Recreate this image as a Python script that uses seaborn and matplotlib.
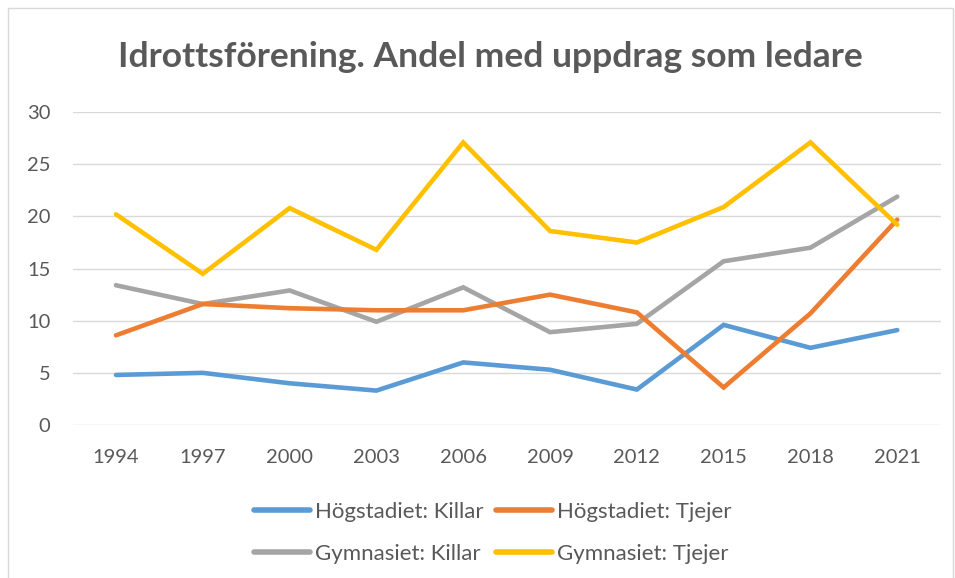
import pandas as pd
import matplotlib.pyplot as plt
import seaborn as sns
from matplotlib.patches import Rectangle

years = ["1994", "1997", "2000", "2003", "2006", "2009", "2012", "2015", "2018", "2021"]
hog_killar = [4.8, 5.0, 4.0, 3.3, 6.0, 5.3, 3.4, 9.6, 7.4, 9.1]
hog_tjejer = [8.6, 11.6, 11.2, 11.0, 11.0, 12.5, 10.8, 3.6, 10.7, 19.7]
gym_killar = [13.4, 11.6, 12.9, 9.9, 13.2, 8.9, 9.7, 15.7, 17.0, 21.9]
gym_tjejer = [20.2, 14.5, 20.8, 16.8, 27.1, 18.6, 17.5, 20.9, 27.1, 19.2]

# legend is filled column-wise, so this order gives the two rows of the original
series = {
    "Högstadiet: Killar": hog_killar,
    "Gymnasiet: Killar": gym_killar,
    "Högstadiet: Tjejer": hog_tjejer,
    "Gymnasiet: Tjejer": gym_tjejer,
}
palette = {
    "Högstadiet: Killar": "#5B9BD5",
    "Högstadiet: Tjejer": "#ED7D31",
    "Gymnasiet: Killar": "#A5A5A5",
    "Gymnasiet: Tjejer": "#FFC000",
}

rows = []
for name, vals in series.items():
    for y, v in zip(years, vals):
        rows.append({"År": y, "Andel": v, "Grupp": name})
df = pd.DataFrame(rows)

sns.set_theme(style="white")
plt.rcParams["font.family"] = ["Lato", "DejaVu Sans"]

fig = plt.figure(figsize=(9.55, 5.78), dpi=100)
ax = fig.add_axes([0.076, 0.2647, 0.909, 0.5413])

sns.lineplot(data=df, x="År", y="Andel", hue="Grupp", palette=palette,
             hue_order=list(series.keys()), linewidth=3.3, ax=ax, sort=False)

ax.set_xlim(-0.5, len(years) - 0.5)
ax.set_ylim(0, 30)
ax.set_yticks([0, 5, 10, 15, 20, 25, 30])
ax.yaxis.grid(True, color="#D9D9D9", linewidth=1)
ax.set_axisbelow(True)
for s in ax.spines.values():
    s.set_visible(False)
ax.tick_params(axis="both", length=0, labelsize=14.5, colors="#595959")
ax.tick_params(axis="x", pad=17)
ax.tick_params(axis="y", pad=16)
ax.set_xlabel("")
ax.set_ylabel("")

for line in ax.get_lines():
    line.set_solid_capstyle("round")
    line.set_solid_joinstyle("miter")

fig.text(0.513, 0.902, "Idrottsförening. Andel med uppdrag som ledare",
         ha="center", va="center", fontsize=25.5, fontweight="bold", color="#595959")

handles, labels = ax.get_legend_handles_labels()
if ax.legend_:
    ax.legend_.remove()
leg = fig.legend(handles, labels, ncol=2, loc="center", bbox_to_anchor=(0.516, 0.078),
                 frameon=False, fontsize=16, handlelength=2.5, handletextpad=0.25,
                 columnspacing=0.55, labelspacing=1.0)
for t in leg.get_texts():
    t.set_color("#595959")
for h in leg.get_lines():
    h.set_linewidth(4)

fig.patches.append(Rectangle((0.008, -0.01), 0.99, 0.996, transform=fig.transFigure,
                             fill=False, edgecolor="#D9D9D9", linewidth=1))

fig.savefig("out.png", dpi=100)
